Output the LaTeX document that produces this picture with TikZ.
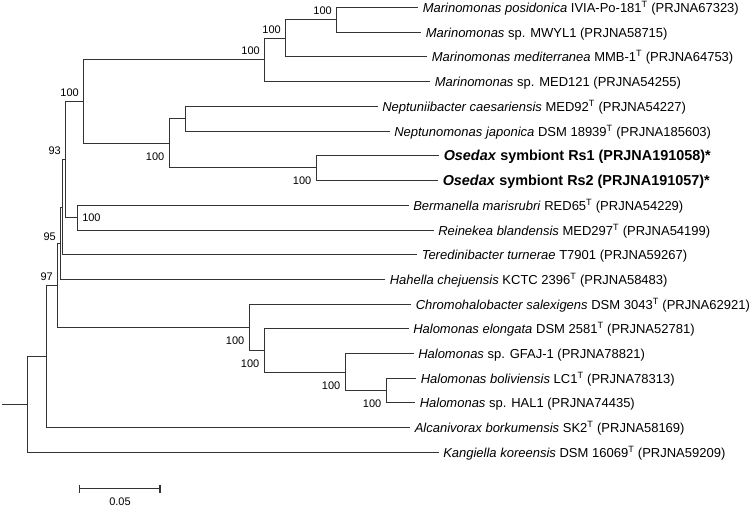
\documentclass[tikz,border=0pt]{standalone}
\usepackage{fontspec}
\setmainfont{Liberation Sans}
\usetikzlibrary{arrows.meta}

\begin{document}
\begin{tikzpicture}[x=1pt, y=-1pt, line width=1.5pt, draw=black!80,
		leaf/.style={anchor=west, inner xsep=4pt, inner ysep=0pt, text height=9.3pt, text depth=0pt, font=\fontsize{13}{15}\selectfont},
		ose/.style={leaf, text height=10.4pt, font=\fontsize{14.4}{17}\selectfont\bfseries},
		bsa/.style={anchor=south east, inner sep=0pt, xshift=-4pt, yshift=4pt, font=\fontsize{11}{13}\selectfont},
		bsb/.style={anchor=north east, inner sep=0pt, xshift=-4.5pt, yshift=-8.5pt, font=\fontsize{11}{13}\selectfont},
		bsr/.style={anchor=west, inner sep=0pt, xshift=4pt, font=\fontsize{11}{13}\selectfont}]
		\useasboundingbox (0,0) rectangle (751,507);
		% taxa
		\node[leaf] (l1) at (418,7.5) {\textit{Marinomonas posidonica} IVIA-Po-181\textsuperscript{T} (PRJNA67323)};
		\node[leaf] (l2) at (421,32.5) {\textit{Marinomonas} sp. MWYL1 (PRJNA58715)};
		\node[leaf] (l3) at (427,56.5) {\textit{Marinomonas mediterranea} MMB-1\textsuperscript{T} (PRJNA64753)};
		\node[leaf] (l4) at (430,81.5) {\textit{Marinomonas} sp. MED121 (PRJNA54255)};
		\node[leaf] (l5) at (377.5,106.5) {\textit{Neptuniibacter caesariensis} MED92\textsuperscript{T} (PRJNA54227)};
		\node[leaf] (l6) at (389.5,131.5) {\textit{Neptunomonas japonica} DSM 18939\textsuperscript{T} (PRJNA185603)};
		\node[ose] (l7) at (439,155.5) {\textit{Osedax} symbiont Rs1 (PRJNA191058)*};
		\node[ose] (l8) at (438,180.5) {\textit{Osedax} symbiont Rs2 (PRJNA191057)*};
		\node[leaf] (l9) at (408.5,205.5) {\textit{Bermanella marisrubri} RED65\textsuperscript{T} (PRJNA54229)};
		\node[leaf] (l10) at (433.5,230.5) {\textit{Reinekea blandensis} MED297\textsuperscript{T} (PRJNA54199)};
		\node[leaf] (l11) at (417,254.5) {\textit{Teredinibacter turnerae} T7901 (PRJNA59267)};
		\node[leaf] (l12) at (385,279.5) {\textit{Hahella chejuensis} KCTC 2396\textsuperscript{T} (PRJNA58483)};
		\node[leaf] (l13) at (411,304.5) {\textit{Chromohalobacter salexigens} DSM 3043\textsuperscript{T} (PRJNA62921)};
		\node[leaf] (l14) at (408.5,328.5) {\textit{Halomonas elongata} DSM 2581\textsuperscript{T} (PRJNA52781)};
		\node[leaf] (l15) at (413.5,353.5) {\textit{Halomonas} sp. GFAJ-1 (PRJNA78821)};
		\node[leaf] (l16) at (416,378.5) {\textit{Halomonas boliviensis} LC1\textsuperscript{T} (PRJNA78313)};
		\node[leaf] (l17) at (415,402.5) {\textit{Halomonas} sp. HAL1 (PRJNA74435)};
		\node[leaf] (l18) at (410,427.5) {\textit{Alcanivorax borkumensis} SK2\textsuperscript{T} (PRJNA58169)};
		\node[leaf] (l19) at (438.5,452.5) {\textit{Kangiella koreensis} DSM 16069\textsuperscript{T} (PRJNA59209)};
		% internal nodes
		\coordinate (nPos) at (336.5,19.5);
		\coordinate (nMed) at (285.5,38.5);
		\coordinate (nMar) at (264.5,59.5);
		\coordinate (nNep) at (185.5,118.5);
		\coordinate (nOse) at (316.5,167.5);
		\coordinate (nNos) at (169.5,143.5);
		\coordinate (nOce) at (83.5,101.5);
		\coordinate (nBer) at (77.5,217.5);
		\coordinate (nF) at (65.5,159.5);
		\coordinate (nE) at (62.5,207.5);
		\coordinate (nD) at (60.5,243.5);
		\coordinate (nHb) at (386.5,390.5);
		\coordinate (nHg) at (345.5,372.5);
		\coordinate (nHe) at (264.5,350.5);
		\coordinate (nHal) at (249.5,327.5);
		\coordinate (nC) at (57.5,285.5);
		\coordinate (nB) at (46.5,356.5);
		\coordinate (nA) at (27.5,404.5);
		\coordinate (stub) at (2,404.5);
		% branches
		\draw (nPos) |- (l1.west) (nPos) |- (l2.west);
		\draw (nMed) |- (nPos) (nMed) |- (l3.west);
		\draw (nMar) |- (nMed) (nMar) |- (l4.west);
		\draw (nNep) |- (l5.west) (nNep) |- (l6.west);
		\draw (nOse) |- (l7.west) (nOse) |- (l8.west);
		\draw (nNos) |- (nNep) (nNos) |- (nOse);
		\draw (nOce) |- (nMar) (nOce) |- (nNos);
		\draw (nBer) |- (l9.west) (nBer) |- (l10.west);
		\draw (nF) |- (nOce) (nF) |- (nBer);
		\draw (nE) |- (nF) (nE) |- (l11.west);
		\draw (nD) |- (nE) (nD) |- (l12.west);
		\draw (nHb) |- (l16.west) (nHb) |- (l17.west);
		\draw (nHg) |- (l15.west) (nHg) |- (nHb);
		\draw (nHe) |- (l14.west) (nHe) |- (nHg);
		\draw (nHal) |- (l13.west) (nHal) |- (nHe);
		\draw (nC) |- (nD) (nC) |- (nHal);
		\draw (nB) |- (nC) (nB) |- (l18.west);
		\draw (nA) |- (nB) (nA) |- (l19.west);
		\draw (stub) -- (nA);
		% bootstrap values
		\node[bsa] (bPos) at (nPos) {100};
		\node[bsa] (bMed) at (nMed) {100};
		\node[bsa] (bMar) at (nMar) {100};
		\node[bsa] (bOce) at (nOce) {100};
		\node[bsb] (bNos) at (nNos) {100};
		\node[bsb] (bOse) at (nOse) {100};
		\node[bsr] (bBer) at (nBer) {100};
		\node[bsa] (bF) at (nF) {93};
		\node[bsa, yshift=-2pt] (bD) at (nD) {95};
		\node[bsa] (bC) at (nC) {97};
		\node[bsb] (bHal) at (nHal) {100};
		\node[bsb] (bHe) at (nHe) {100};
		\node[bsb] (bHg) at (nHg) {100};
		\node[bsb] (bHb) at (nHb) {100};
		% scale bar
		\coordinate (sL) at (78.5,488.5);
		\coordinate (sR) at (160.5,488.5);
		\draw[{Bar[width=8pt]}-{Bar[width=8pt]}] (sL) -- (sR);
		\node[font=\fontsize{11}{13}\selectfont] (sLab) at (120,501.5) {0.05};
	\end{tikzpicture}
\end{document}
